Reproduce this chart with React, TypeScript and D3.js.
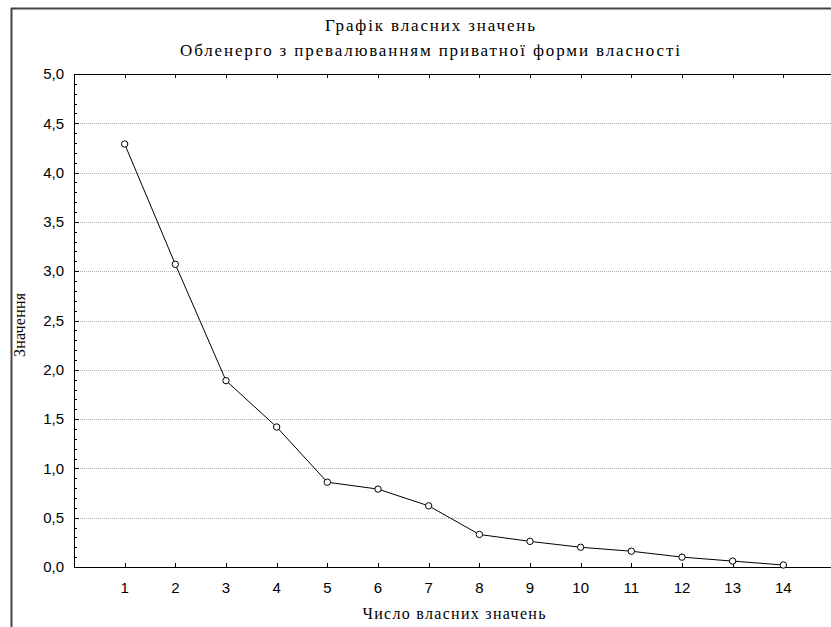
import React from "react";
import * as d3 from "d3";

// eigenvalues
const components = [1, 2, 3, 4, 5, 6, 7, 8, 9, 10, 11, 12, 13, 14];
const eigenvalues = [4.29, 3.07, 1.89, 1.42, 0.86, 0.79, 0.62, 0.33, 0.26, 0.2, 0.16, 0.1, 0.06, 0.02];
const yTicks = [0, 0.5, 1, 1.5, 2, 2.5, 3, 3.5, 4, 4.5, 5];

const titleLines = ["Графік власних значень", "Обленерго з превалюванням приватної форми власності"];
const xLabel = "Число власних значень";
const yLabel = "Значення";

const W = 831;
const H = 627;
const left = 74;
const top = 74;
const bottom = 567;
const right = 834;

export default function App() {
  const x = d3.scaleLinear().domain([0, 15]).range([left, right]);
  const y = d3.scaleLinear().domain([0, 5]).range([bottom, top]);
  const minor = d3.range(0, 50).map(i => i / 10).filter(v => Math.abs(v * 2 - Math.round(v * 2)) > 1e-6);

  const line = d3.line<number>()
    .x((d, i) => x(components[i]))
    .y(d => y(d));

  const serif = "'Liberation Serif', 'DejaVu Serif', serif";
  const sans = "'Liberation Sans', Arial, sans-serif";
  const titleWidths = [210, 500];

  return (
    <svg width={W} height={H} style={{ position: "absolute", left: 0, top: 0, background: "#fff" }}>
      <rect x={0} y={0} width={W} height={H} fill="#fff" />
      {/* outer frame */}
      <line x1={11.5} y1={8} x2={11.5} y2={H} stroke="#444" strokeWidth={2} />
      <line x1={11} y1={8.5} x2={W} y2={8.5} stroke="#444" strokeWidth={2} />

      {titleLines.map((t, i) => (
        <text key={t} x={430} y={31 + i * 25} textAnchor="middle" fontFamily={serif} fontSize={17}
          textLength={titleWidths[i]} lengthAdjust="spacing" fill="#000">{t}</text>
      ))}

      {/* grid */}
      {yTicks.slice(1, -1).map(v => (
        <line key={"g" + v} x1={left} x2={right} y1={Math.round(y(v)) + 0.5} y2={Math.round(y(v)) + 0.5}
          stroke="#b0b0b0" strokeWidth={1} strokeDasharray="1,1" />
      ))}

      {/* plot box */}
      <line x1={left + 0.5} x2={left + 0.5} y1={top} y2={bottom + 1} stroke="#000" />
      <line x1={left} x2={right} y1={bottom + 0.5} y2={bottom + 0.5} stroke="#000" />
      <line x1={left} x2={right} y1={top + 0.5} y2={top + 0.5} stroke="#000" />

      {/* y ticks */}
      {yTicks.map(v => (
        <g key={"y" + v}>
          <line x1={left} x2={left + 5} y1={Math.round(y(v)) + 0.5} y2={Math.round(y(v)) + 0.5} stroke="#000" />
          <text x={64} y={y(v)} dy="0.35em" textAnchor="end" fontFamily={sans} fontSize={15} fill="#000">
            {d3.format(".1f")(v).replace(".", ",")}
          </text>
        </g>
      ))}
      {minor.map(v => (
        <line key={"m" + v} x1={left} x2={left + 3} y1={Math.round(y(v)) + 0.5} y2={Math.round(y(v)) + 0.5} stroke="#000" />
      ))}

      {/* x ticks */}
      {components.map(c => (
        <g key={"x" + c}>
          <line x1={Math.round(x(c)) + 0.5} x2={Math.round(x(c)) + 0.5} y1={bottom} y2={bottom - 4} stroke="#000" />
          <line x1={Math.round(x(c)) + 0.5} x2={Math.round(x(c)) + 0.5} y1={top} y2={top + 4} stroke="#000" />
          <text x={x(c)} y={588} dy="0.35em" textAnchor="middle" fontFamily={sans} fontSize={15} fill="#000">{c}</text>
        </g>
      ))}

      <path d={line(eigenvalues) ?? ""} fill="none" stroke="#000" strokeWidth={1} />
      {eigenvalues.map((v, i) => (
        <circle key={"p" + i} cx={x(components[i])} cy={y(v)} r={3.2} fill="#fff" stroke="#000" strokeWidth={1} />
      ))}

      <text x={454} y={619} textAnchor="middle" fontFamily={serif} fontSize={16}
        textLength={183} lengthAdjust="spacing" fill="#000">{xLabel}</text>
      <text transform={`translate(25,325) rotate(-90)`} textAnchor="middle" fontFamily={serif} fontSize={16}
        textLength={64} lengthAdjust="spacing" fill="#000">{yLabel}</text>
    </svg>
  );
}
